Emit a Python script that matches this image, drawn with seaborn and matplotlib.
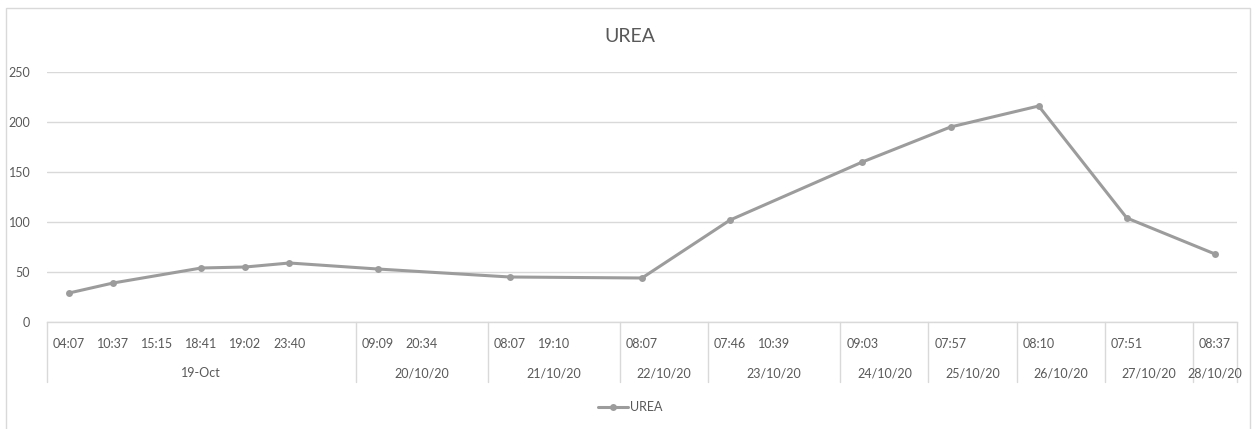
import numpy as np
import pandas as pd
import matplotlib
matplotlib.use("Agg")
import matplotlib.pyplot as plt
import matplotlib.transforms as mtransforms
from matplotlib.lines import Line2D
from matplotlib.patches import Rectangle
import seaborn as sns

# Sampling times on the category axis (blank slots separate the days)
times = ["04:07", "10:37", "15:15", "18:41", "19:02", "23:40", "",
         "09:09", "20:34", "",
         "08:07", "19:10", "",
         "08:07", "",
         "07:46", "10:39", "",
         "09:03", "",
         "07:57", "",
         "08:10", "",
         "07:51", "",
         "08:37"]

# Outer category level: day labels and how many slots each day spans
dates = ["19-Oct", "20/10/20", "21/10/20", "22/10/20", "23/10/20",
         "24/10/20", "25/10/20", "26/10/20", "27/10/20", "28/10/20"]
date_slots = [7, 3, 3, 2, 3, 2, 2, 2, 2, 1]

# Urea readings per slot (NaN where nothing was measured)
urea = [29, 39, np.nan, 54, 55, 59, np.nan,
        53, np.nan, np.nan,
        45, np.nan, np.nan,
        44, np.nan,
        102, np.nan, np.nan,
        160, np.nan,
        195, np.nan,
        216, np.nan,
        104, np.nan,
        68]

yticks = [0, 50, 100, 150, 200, 250]

TEXT = "#595959"
GRID = "#d9d9d9"
LINE = "#9c9c9c"

sns.set_theme(style="white")
plt.rcParams["font.family"] = ["Lato", "DejaVu Sans"]

W, H = 1255, 429
fig = plt.figure(figsize=(W / 100, H / 100), dpi=100)
fig.patch.set_facecolor("white")

# chart frame
fig.add_artist(Rectangle((6 / W, -0.1), (1250 - 6) / W, (H - 8) / H + 0.1,
                         transform=fig.transFigure, fill=False,
                         edgecolor=GRID, lw=1))

ax = fig.add_axes([47 / W, (H - 322) / H, (1237 - 47) / W, 250 / H])

df = pd.DataFrame({"slot": np.arange(len(times)), "UREA": urea}).dropna()
sns.lineplot(data=df, x="slot", y="UREA", ax=ax, color=LINE, linewidth=2.2,
             marker="o", markersize=5, markeredgewidth=0, legend=False)

ax.set_xlim(-0.5, len(times) - 0.5)
ax.set_ylim(yticks[0], yticks[-1])
ax.set_yticks(yticks)
ax.yaxis.grid(True, color=GRID, lw=1)
ax.set_axisbelow(True)
ax.set_xticks([])
ax.set_xlabel("")
ax.set_ylabel("")
for s in ["top", "right", "left"]:
    ax.spines[s].set_visible(False)
ax.spines["bottom"].set_color(GRID)
ax.spines["bottom"].set_linewidth(1)
ax.tick_params(axis="y", length=0, pad=12, labelsize=9, labelcolor=TEXT)

# two-level category axis
trans = mtransforms.blended_transform_factory(ax.transData, ax.transAxes)
for i, t in enumerate(times):
    ax.text(i, -0.088, t, transform=trans, ha="center", va="center",
            fontsize=9, color=TEXT)

starts = np.concatenate([[0], np.cumsum(date_slots)[:-1]])
for d, s, n in zip(dates, starts, date_slots):
    ax.text(s + (n - 1) / 2, -0.204, d, transform=trans, ha="center",
            va="center", fontsize=9, color=TEXT)

bounds = list(starts - 0.5) + [len(times) - 0.5]
for b in bounds:
    ax.plot([b, b], [0, -0.24], transform=trans, color=GRID, lw=1,
            clip_on=False)

fig.text(630 / W, 1 - 36 / H, "UREA", ha="center", va="center",
         fontsize=14, color=TEXT)

handle = Line2D([], [], color=LINE, lw=2.2, marker="o", markersize=5,
                markeredgewidth=0)
fig.legend(handles=[handle], labels=["UREA"], loc="center",
           bbox_to_anchor=(630 / W, 1 - 407 / H), frameon=False,
           fontsize=9, handlelength=2.4, handletextpad=0.2,
           labelcolor=TEXT)

fig.savefig("out.png", dpi=100)
